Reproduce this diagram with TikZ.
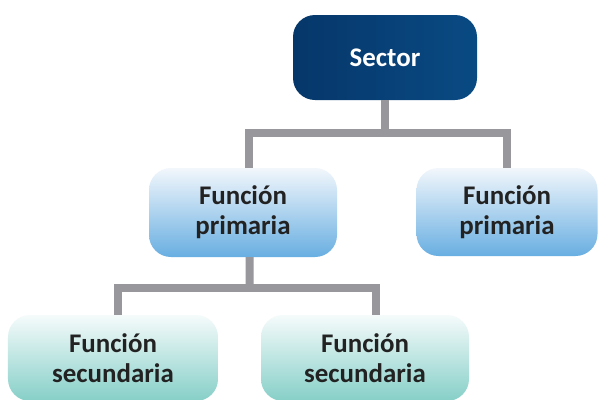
\documentclass[tikz,border=0pt]{standalone}
\usepackage{fontspec}
\setmainfont{Carlito}
\usetikzlibrary{calc}
\definecolor{navyL}{HTML}{06376A}
\definecolor{navyM}{HTML}{32538A}
\definecolor{navyR}{HTML}{094A83}
\definecolor{blueT}{HTML}{F2F7FC}
\definecolor{blueB}{HTML}{68AEE1}
\definecolor{tealT}{HTML}{F5FBFB}
\definecolor{tealB}{HTML}{86CFC8}
\definecolor{connGray}{HTML}{98989C}
\definecolor{txt}{HTML}{222222}
\tikzset{
  box/.style={rounded corners=22bp, inner sep=0pt, align=center,
    font=\fontsize{27}{30}\selectfont\bfseries, text=txt},
  topbox/.style={box, left color=navyL, middle color=navyM, right color=navyR, text=white},
  primbox/.style={box, top color=blueT, bottom color=blueB},
  secbox/.style={box, top color=tealT, bottom color=tealB},
  conn/.style={draw=connGray, line width=8bp, line join=miter, line cap=butt}
}
\begin{document}
\begin{tikzpicture}[x=1bp,y=-1bp]
\clip (0,0) rectangle (599,399);
\fill[white] (0,0) rectangle (599,399);
\node[topbox, minimum width=184bp, minimum height=85bp] (sector) at (385,57.5) {Sector};
\node[primbox, minimum width=188bp, minimum height=89bp] (primL) at (243,212.5) {Función\\primaria};
\node[primbox, minimum width=181bp, minimum height=88bp] (primR) at (507,212) {Función\\primaria};
\node[secbox, minimum width=210bp, minimum height=86bp] (secL) at (113,358) {Función\\secundaria};
\node[secbox, minimum width=208bp, minimum height=86bp] (secR) at (365,358) {Función\\secundaria};
\coordinate (j1) at (385.5,132.5);
\coordinate (j2) at (249.5,287.5);
\draw[conn] (sector.south) -- (sector.south |- j1);
\draw[conn] ([xshift=6bp]primL.north) |- (j1) -| (primR.north);
\draw[conn] ([xshift=6.5bp]primL.south) -- (j2);
\draw[conn] ([xshift=4.5bp]secL.north) |- (j2) -| ([xshift=11bp]secR.north);
\end{tikzpicture}
\end{document}
